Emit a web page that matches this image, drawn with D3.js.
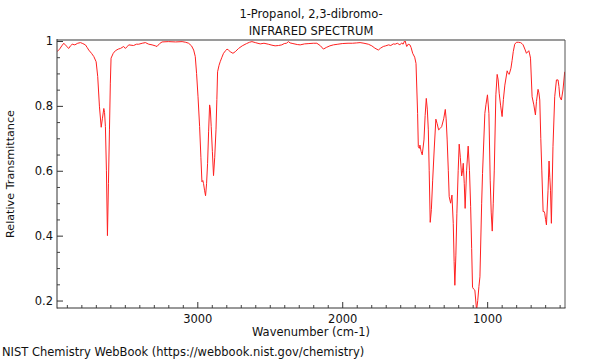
<!DOCTYPE html>
<html>
<head>
<meta charset="utf-8">
<script src="https://cdn.jsdelivr.net/npm/d3@7"></script>
<style>
  html, body { margin: 0; padding: 0; background: #fff; }
  svg { display: block; }
  text { font-family: "DejaVu Sans", sans-serif; fill: #111; }
</style>
</head>
<body>
<svg id="chart" width="600" height="360"></svg>
<script>
// ---- data ----
const wavenumber = [
  3968,3950,3935,3921,3905,3887,3875,3863,3845,3825,3806,3790,3772,3760,3749,3730,3714,3698,3687,3675,
  3663,3655,3645,3640,3634,3627,3620,3613,3606,3600,3595,3580,3565,3545,3530,3508,3496,3485,3473,3440,
  3420,3404,3380,3358,3335,3312,3290,3278,3260,3243,3200,3150,3105,3080,3060,3040,3025,3014,3005,2995,
  2984,2975,2968,2962,2957,2950,2943,2936,2929,2922,2915,2910,2904,2896,2888,2880,2871,2865,2860,2850,
  2842,2830,2819,2805,2795,2785,2773,2754,2738,2715,2690,2660,2640,2623,2600,2566,2540,2510,2485,2463,
  2440,2417,2400,2385,2371,2360,2340,2310,2290,2260,2230,2200,2175,2150,2130,2110,2085,2061,2030,2000,
  1960,1930,1900,1877,1850,1820,1796,1775,1751,1735,1717,1700,1680,1665,1648,1635,1620,1602,1590,1580,
  1567,1560,1555,1545,1533,1525,1514,1500,1491,1480,1475,1468,1464,1456,1448,1436,1428,1420,1413,1406,
  1400,1393,1385,1376,1365,1354,1345,1335,1325,1314,1300,1289,1283,1276,1268,1262,1252,1243,1234,1228,
  1223,1216,1209,1200,1193,1185,1176,1170,1165,1158,1152,1142,1131,1122,1114,1107,1101,1093,1085,1073,
  1065,1057,1050,1038,1032,1016,1008,998,988,979,972,965,958,951,940,931,924,917,907,897,
  888,878,862,855,848,836,828,820,810,798,785,770,760,752,740,729,721,713,707,701,
  690,678,667,660,649,643,637,630,623,614,608,603,597,591,580,573,568,563,557,546,
  534,522,511,505,499,488,477,465
];
const transmittance = [
  0.967,0.975,0.985,0.993,0.985,0.977,0.985,0.990,0.988,0.993,0.995,0.992,0.988,0.980,0.972,0.962,0.952,0.936,0.890,0.797,
  0.734,0.760,0.792,0.780,0.736,0.600,0.400,0.560,0.726,0.870,0.947,0.962,0.970,0.975,0.977,0.983,0.977,0.982,0.988,0.986,
  0.990,0.990,0.993,0.995,0.990,0.988,0.985,0.983,0.992,0.997,0.998,0.997,0.998,0.996,0.993,0.985,0.972,0.952,0.900,0.828,
  0.736,0.640,0.566,0.570,0.561,0.540,0.523,0.560,0.623,0.720,0.803,0.790,0.736,0.660,0.585,0.640,0.726,0.820,0.905,0.925,
  0.936,0.950,0.962,0.970,0.975,0.972,0.967,0.962,0.967,0.977,0.985,0.992,0.996,0.998,0.995,0.991,0.993,0.990,0.987,0.985,
  0.986,0.988,0.992,0.993,0.998,0.994,0.992,0.989,0.988,0.991,0.992,0.993,0.993,0.985,0.975,0.980,0.985,0.988,0.990,0.992,
  0.993,0.993,0.994,0.995,0.993,0.990,0.985,0.978,0.972,0.978,0.983,0.985,0.988,0.986,0.991,0.990,0.993,0.988,0.994,0.990,
  1.003,0.990,0.983,0.990,0.988,0.980,0.962,0.950,0.931,0.777,0.674,0.669,0.679,0.660,0.649,0.695,0.770,0.823,0.790,0.726,
  0.600,0.441,0.480,0.571,0.670,0.759,0.745,0.726,0.730,0.736,0.760,0.789,0.760,0.695,0.600,0.520,0.500,0.525,0.438,0.320,
  0.247,0.340,0.469,0.600,0.682,0.640,0.584,0.600,0.623,0.560,0.484,0.600,0.676,0.600,0.489,0.360,0.241,0.235,0.232,0.170,
  0.200,0.243,0.273,0.500,0.592,0.777,0.805,0.834,0.777,0.571,0.470,0.414,0.500,0.602,0.834,0.897,0.880,0.839,0.800,0.767,
  0.820,0.864,0.908,0.900,0.897,0.916,0.940,0.967,0.990,0.996,0.996,0.995,0.992,0.988,0.975,0.962,0.966,0.970,0.960,0.947,
  0.828,0.803,0.772,0.813,0.851,0.840,0.818,0.700,0.602,0.474,0.475,0.469,0.450,0.433,0.540,0.630,0.580,0.540,0.438,0.674,
  0.828,0.880,0.880,0.860,0.828,0.818,0.849,0.905
];
const xMajorTicks = [3000, 2000, 1000];
const xTickLabels = ["3000", "2000", "1000"];
const yMajorTicks = [0.2, 0.4, 0.6, 0.8, 1.0];
const yTickLabels = ["0.2", "0.4", "0.6", "0.8", "1"];
const titleLines = ["1-Propanol, 2,3-dibromo-", "INFRARED SPECTRUM"];
const xLabel = "Wavenumber (cm-1)";
const yLabel = "Relative Transmittance";
const footer = "NIST Chemistry WebBook (https://webbook.nist.gov/chemistry)";

// ---- layout ----
const L = 57, R = 565, T = 40, B = 308;
const FS = 11.5;
const svg = d3.select("#chart");

const x = d3.scaleLinear().domain([3968, 463]).range([L, R]);
const y = d3.scaleLinear().domain([0.177, 1.003]).range([B, T]);

const xMinor = d3.range(500, 3968, 100).filter(v => v % 1000 !== 0);
const yMinor = d3.range(0.2, 1.0001, 0.05).map(v => +v.toFixed(2)).filter(v => !yMajorTicks.some(m => Math.abs(m - v) < 1e-6));

// clip
svg.append("defs").append("clipPath").attr("id", "clip")
  .append("rect").attr("x", L).attr("y", T).attr("width", R - L).attr("height", B - T);

// spectrum
const data = wavenumber.map((w, i) => [w, transmittance[i]]);
svg.append("path")
  .datum(data)
  .attr("clip-path", "url(#clip)")
  .attr("fill", "none")
  .attr("stroke", "#ff2020")
  .attr("stroke-width", 1)
  .attr("stroke-linejoin", "round")
  .attr("d", d3.line().x(d => x(d[0])).y(d => y(d[1])));

// x axis minor
const gxm = svg.append("g").attr("transform", `translate(0,${B})`)
  .call(d3.axisBottom(x).tickValues(xMinor).tickSizeInner(-3).tickSizeOuter(0).tickFormat(""));
gxm.select(".domain").remove();
gxm.selectAll("line").attr("stroke", "#444");
// x axis major
const gx = svg.append("g").attr("transform", `translate(0,${B})`)
  .call(d3.axisBottom(x).tickValues(xMajorTicks).tickSizeInner(-6).tickSizeOuter(0).tickPadding(7)
    .tickFormat((d, i) => xTickLabels[i]));
gx.select(".domain").remove();
gx.selectAll("line").attr("stroke", "#333");
gx.selectAll("text").attr("font-size", FS).attr("font-family", "DejaVu Sans").attr("fill", "#111");

// y axis minor
const gym = svg.append("g").attr("transform", `translate(${L},0)`)
  .call(d3.axisLeft(y).tickValues(yMinor).tickSizeInner(-3).tickSizeOuter(0).tickFormat(""));
gym.select(".domain").remove();
gym.selectAll("line").attr("stroke", "#444");
// y axis major
const gy = svg.append("g").attr("transform", `translate(${L},0)`)
  .call(d3.axisLeft(y).tickValues(yMajorTicks).tickSizeInner(-6).tickSizeOuter(0).tickPadding(4)
    .tickFormat((d, i) => yTickLabels[i]));
gy.select(".domain").remove();
gy.selectAll("line").attr("stroke", "#333");
gy.selectAll("text").attr("font-size", FS).attr("font-family", "DejaVu Sans").attr("fill", "#111");

// frame
svg.append("line").attr("x1", L).attr("x2", R).attr("y1", T).attr("y2", T)
  .attr("stroke", "#9a9a9a").attr("stroke-width", 2);
svg.append("line").attr("x1", R).attr("x2", R).attr("y1", T).attr("y2", B)
  .attr("stroke", "#555").attr("stroke-width", 1);
svg.append("line").attr("x1", L).attr("x2", L).attr("y1", T - 1).attr("y2", B + 0.5)
  .attr("stroke", "#333").attr("stroke-width", 1);
svg.append("line").attr("x1", L).attr("x2", R + 0.5).attr("y1", B).attr("y2", B)
  .attr("stroke", "#333").attr("stroke-width", 1);

// titles
const cx = (L + R) / 2;
svg.append("text").attr("x", cx).attr("y", 18).attr("text-anchor", "middle")
  .attr("font-size", FS).text(titleLines[0]);
svg.append("text").attr("x", cx).attr("y", 35).attr("text-anchor", "middle")
  .attr("font-size", FS).text(titleLines[1]);
svg.append("text").attr("x", cx).attr("y", 336).attr("text-anchor", "middle")
  .attr("font-size", FS).text(xLabel);
svg.append("text").attr("transform", `translate(14,174) rotate(-90)`).attr("text-anchor", "middle")
  .attr("font-size", 11.2).text(yLabel);
svg.append("text").attr("x", 2).attr("y", 356).attr("font-size", FS).text(footer);
</script>
</body>
</html>
